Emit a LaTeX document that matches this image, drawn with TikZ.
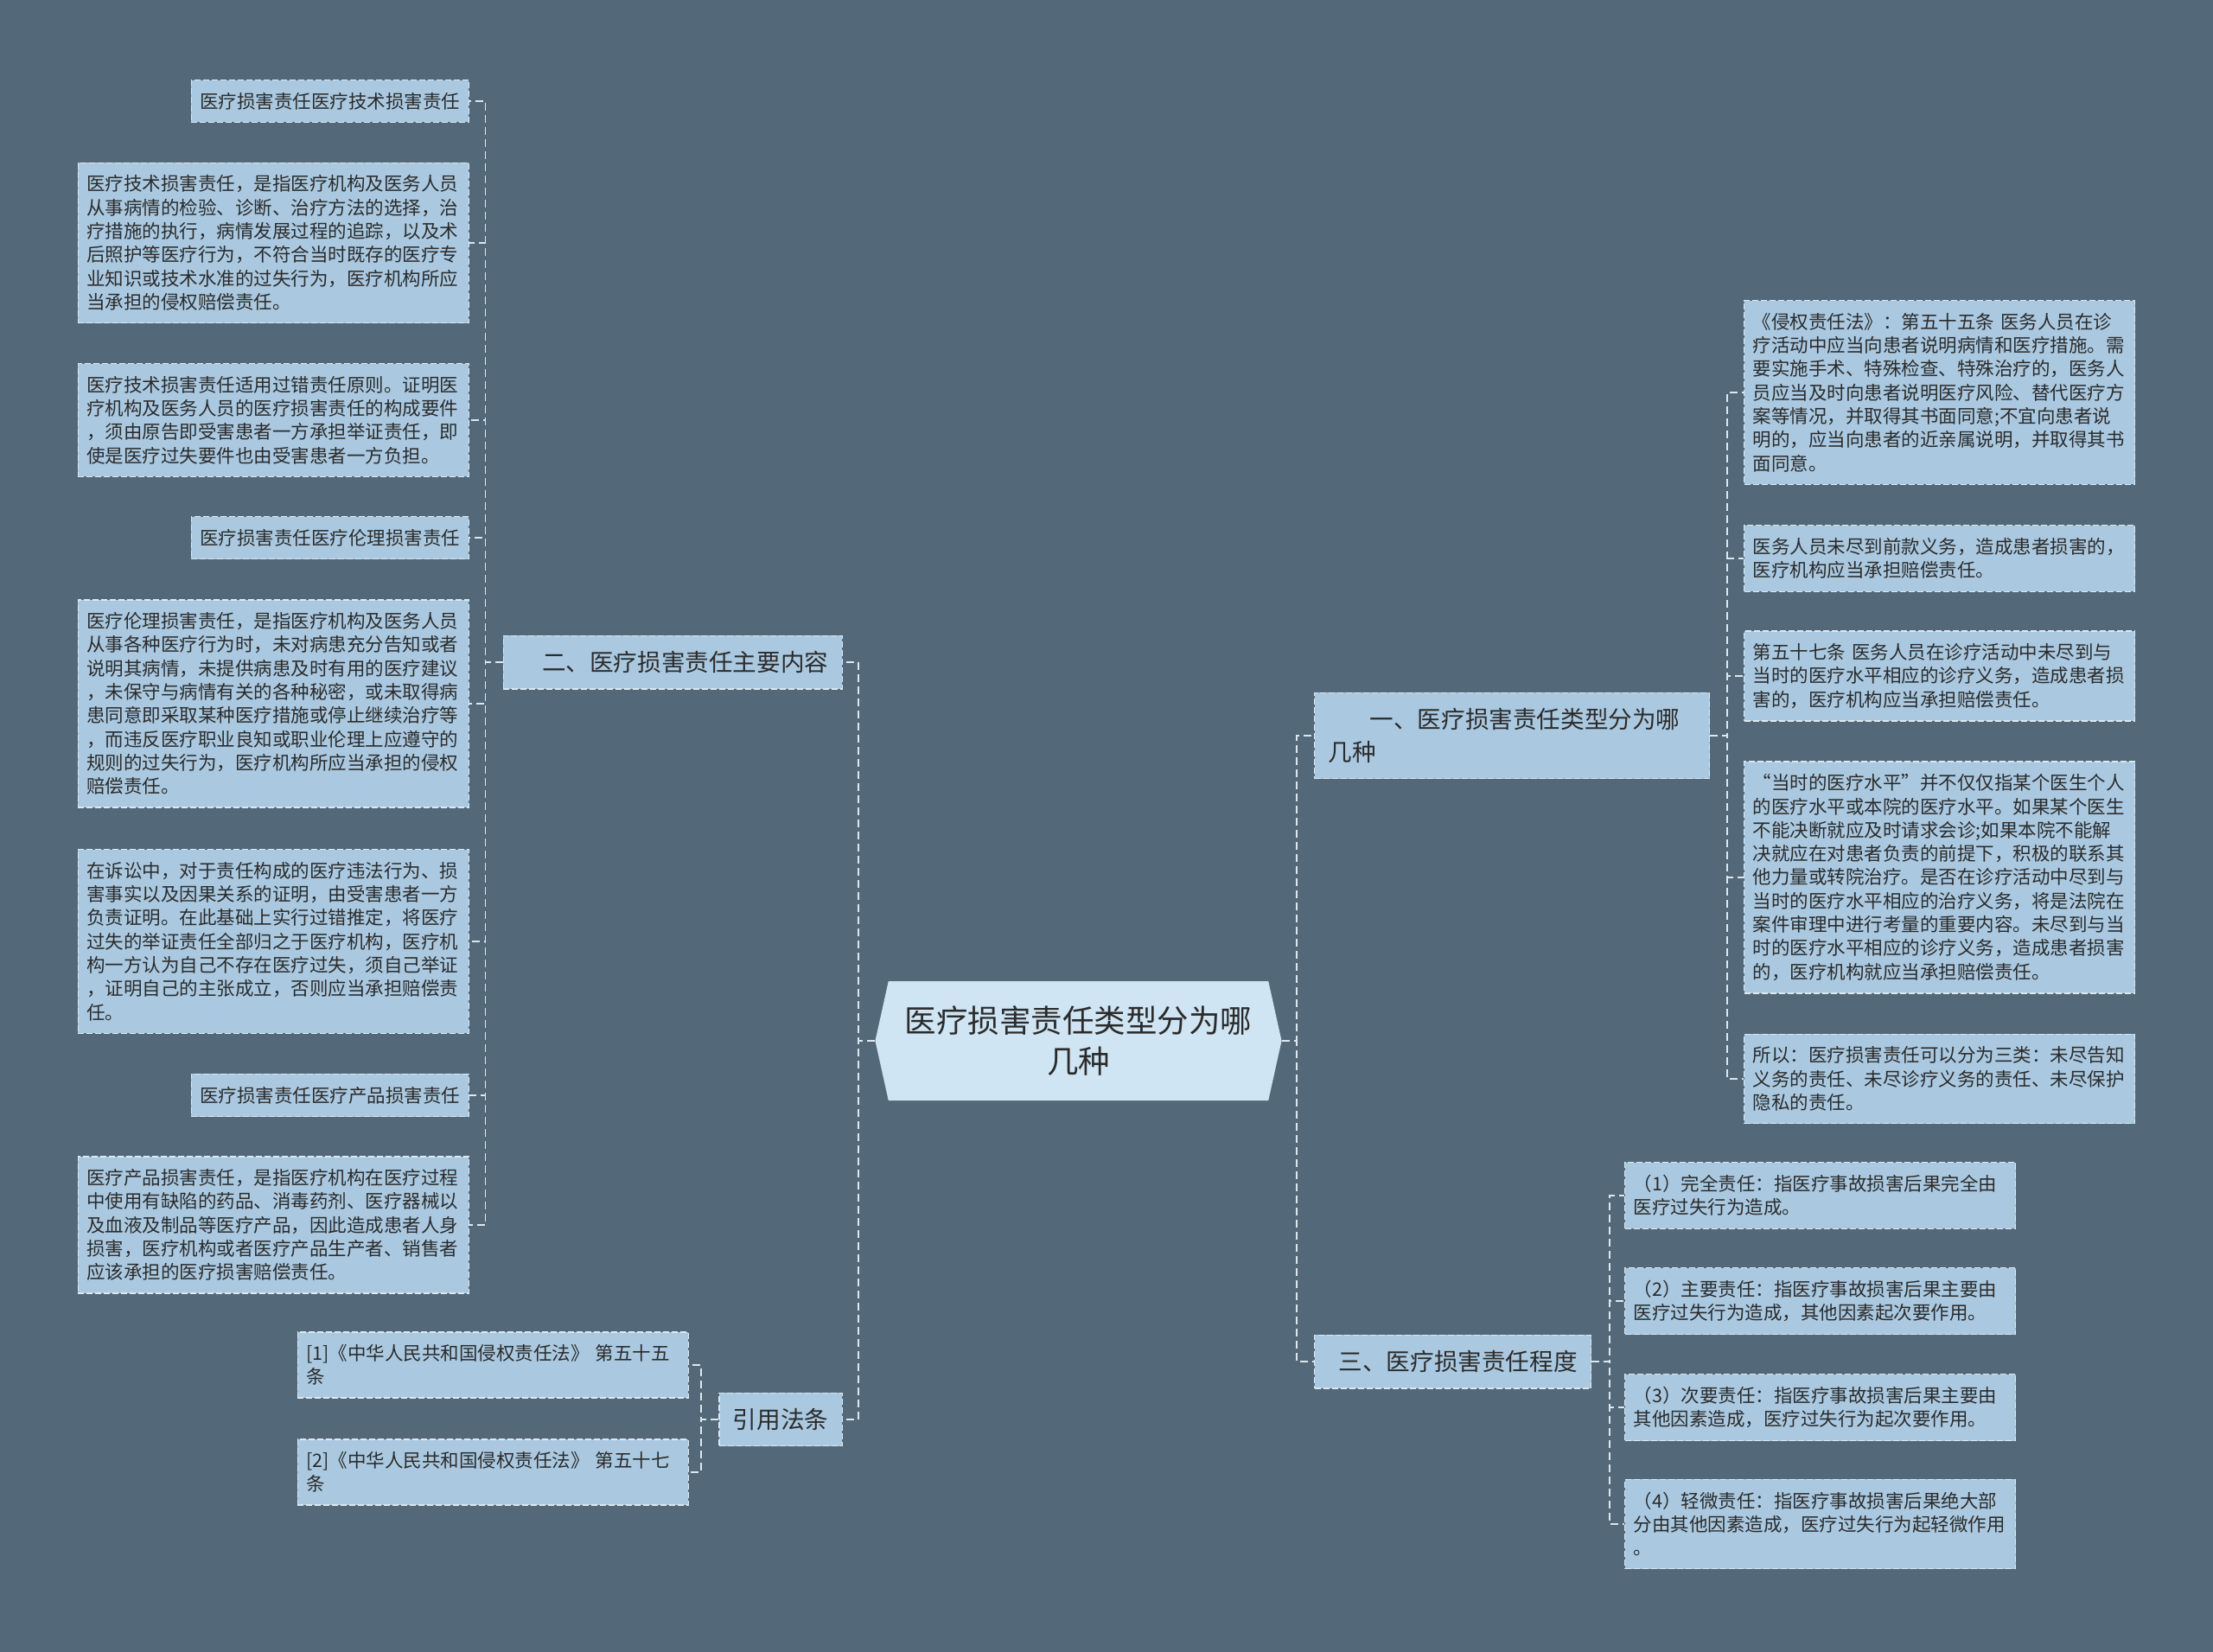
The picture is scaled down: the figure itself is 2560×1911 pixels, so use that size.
\documentclass[tikz,border=0pt]{standalone}
\usepackage{fontspec}
\usepackage{tikz}
\usetikzlibrary{shapes.symbols}
\newfontfamily\cjk{Noto Sans CJK SC}
\definecolor{slate}{HTML}{536878}
\definecolor{leafblue}{HTML}{AAC9E0}
\definecolor{rootblue}{HTML}{CFE5F3}
\definecolor{inkgray}{HTML}{2B2B2B}
\definecolor{linegray}{HTML}{DCE8F0}

\begin{document}
\begin{tikzpicture}[x=1pt,y=-1pt,
  box/.style={draw=linegray, fill=leafblue, line width=1.3pt, dash pattern=on 7pt off 3pt,
    text=inkgray, inner xsep=10pt, inner ysep=14.5pt, align=left,
    font=\cjk\fontsize{21.5}{27.3}\selectfont},
  note/.style={box, text width=432pt},
  branch/.style={box, inner xsep=16pt, inner ysep=18pt, font=\cjk\fontsize{27.6}{38}\selectfont},
  root/.style={signal, signal to=west and east, signal pointer angle=155, fill=rootblue,
    text=inkgray, align=center, inner xsep=19pt, minimum height=138pt,
    font=\cjk\fontsize{36.5}{47}\selectfont},
  link/.style={draw=linegray, line width=1.8pt, dash pattern=on 9pt off 5pt}]

% page size
\fill[slate] (0,0) rectangle (2560,1911);
\useasboundingbox (0,0) rectangle (2560,1911);

% root
\node[root] (root) at (1247.5,1204) {医疗损害责任类型分为哪\\几种};

% branches
\node[branch, anchor=east] (b2) at (975,766) {\hspace*{29pt}二、医疗损害责任主要内容};
\node[branch, anchor=east] (b4) at (975,1642) {引用法条};
\node[branch, anchor=west, text width=425pt] (b1) at (1520,851) {\hspace*{48pt}一、医疗损害责任类型分为哪\\几种};
\node[branch, anchor=west] (b3) at (1520,1575) {\hspace*{12pt}三、医疗损害责任程度};

% leaves of b2
\node[box, anchor=east] (l1) at (543,117) {医疗损害责任医疗技术损害责任};
\node[note, anchor=east] (l2) at (543,281) {医疗技术损害责任，是指医疗机构及医务人员\\从事病情的检验、诊断、治疗方法的选择，治\\疗措施的执行，病情发展过程的追踪，以及术\\后照护等医疗行为，不符合当时既存的医疗专\\业知识或技术水准的过失行为，医疗机构所应\\当承担的侵权赔偿责任。};
\node[note, anchor=east] (l3) at (543,486) {医疗技术损害责任适用过错责任原则。证明医\\疗机构及医务人员的医疗损害责任的构成要件\\，须由原告即受害患者一方承担举证责任，即\\使是医疗过失要件也由受害患者一方负担。};
\node[box, anchor=east] (l4) at (543,622) {医疗损害责任医疗伦理损害责任};
\node[note, anchor=east] (l5) at (543,814) {医疗伦理损害责任，是指医疗机构及医务人员\\从事各种医疗行为时，未对病患充分告知或者\\说明其病情，未提供病患及时有用的医疗建议\\，未保守与病情有关的各种秘密，或未取得病\\患同意即采取某种医疗措施或停止继续治疗等\\，而违反医疗职业良知或职业伦理上应遵守的\\规则的过失行为，医疗机构所应当承担的侵权\\赔偿责任。};
\node[note, anchor=east] (l6) at (543,1089) {在诉讼中，对于责任构成的医疗违法行为、损\\害事实以及因果关系的证明，由受害患者一方\\负责证明。在此基础上实行过错推定，将医疗\\过失的举证责任全部归之于医疗机构，医疗机\\构一方认为自己不存在医疗过失，须自己举证\\，证明自己的主张成立，否则应当承担赔偿责\\任。};
\node[box, anchor=east] (l7) at (543,1267) {医疗损害责任医疗产品损害责任};
\node[note, anchor=east] (l8) at (543,1417) {医疗产品损害责任，是指医疗机构在医疗过程\\中使用有缺陷的药品、消毒药剂、医疗器械以\\及血液及制品等医疗产品，因此造成患者人身\\损害，医疗机构或者医疗产品生产者、销售者\\应该承担的医疗损害赔偿责任。};

% leaves of b4
\node[note, anchor=east] (ref1) at (797,1579) {[1]《中华人民共和国侵权责任法》 第五十五\\条};
\node[note, anchor=east] (ref2) at (797,1703) {[2]《中华人民共和国侵权责任法》 第五十七\\条};

% leaves of b1
\node[note, anchor=west] (r1) at (2017,454) {《侵权责任法》：第五十五条 医务人员在诊\\疗活动中应当向患者说明病情和医疗措施。需\\要实施手术、特殊检查、特殊治疗的，医务人\\员应当及时向患者说明医疗风险、替代医疗方\\案等情况，并取得其书面同意;不宜向患者说\\明的，应当向患者的近亲属说明，并取得其书\\面同意。};
\node[note, anchor=west] (r2) at (2017,646) {医务人员未尽到前款义务，造成患者损害的，\\医疗机构应当承担赔偿责任。};
\node[note, anchor=west] (r3) at (2017,782) {第五十七条 医务人员在诊疗活动中未尽到与\\当时的医疗水平相应的诊疗义务，造成患者损\\害的，医疗机构应当承担赔偿责任。};
\node[note, anchor=west] (r4) at (2017,1015) {“当时的医疗水平”并不仅仅指某个医生个人\\的医疗水平或本院的医疗水平。如果某个医生\\不能决断就应及时请求会诊;如果本院不能解\\决就应在对患者负责的前提下，积极的联系其\\他力量或转院治疗。是否在诊疗活动中尽到与\\当时的医疗水平相应的治疗义务，将是法院在\\案件审理中进行考量的重要内容。未尽到与当\\时的医疗水平相应的诊疗义务，造成患者损害\\的，医疗机构就应当承担赔偿责任。};
\node[note, anchor=west] (r5) at (2017,1248) {所以：医疗损害责任可以分为三类：未尽告知\\义务的责任、未尽诊疗义务的责任、未尽保护\\隐私的责任。};

% leaves of b3
\node[note, anchor=west] (c1) at (1879,1383) {（1）完全责任：指医疗事故损害后果完全由\\医疗过失行为造成。};
\node[note, anchor=west] (c2) at (1879,1505) {（2）主要责任：指医疗事故损害后果主要由\\医疗过失行为造成，其他因素起次要作用。};
\node[note, anchor=west] (c3) at (1879,1628) {（3）次要责任：指医疗事故损害后果主要由\\其他因素造成，医疗过失行为起次要作用。};
\node[note, anchor=west] (c4) at (1879,1763) {（4）轻微责任：指医疗事故损害后果绝大部\\分由其他因素造成，医疗过失行为起轻微作用\\。};

% root to branches
\draw[link] (root.west) -- ++(-19,0) |- (b2.east);
\draw[link] (root.west) -- ++(-19,0) |- (b4.east);
\draw[link] (root.east) -- ++(17,0) |- (b1.west);
\draw[link] (root.east) -- ++(17,0) |- (b3.west);

% b2 to its leaves
\draw[link] (b2.west) -- ++(-20,0) |- (l1.east);
\draw[link] (b2.west) -- ++(-20,0) |- (l2.east);
\draw[link] (b2.west) -- ++(-20,0) |- (l3.east);
\draw[link] (b2.west) -- ++(-20,0) |- (l4.east);
\draw[link] (b2.west) -- ++(-20,0) |- (l5.east);
\draw[link] (b2.west) -- ++(-20,0) |- (l6.east);
\draw[link] (b2.west) -- ++(-20,0) |- (l7.east);
\draw[link] (b2.west) -- ++(-20,0) |- (l8.east);

% b4 to its leaves
\draw[link] (b4.west) -- ++(-20,0) |- (ref1.east);
\draw[link] (b4.west) -- ++(-20,0) |- (ref2.east);

% b1 to its leaves
\draw[link] (b1.east) -- ++(20,0) |- (r1.west);
\draw[link] (b1.east) -- ++(20,0) |- (r2.west);
\draw[link] (b1.east) -- ++(20,0) |- (r3.west);
\draw[link] (b1.east) -- ++(20,0) |- (r4.west);
\draw[link] (b1.east) -- ++(20,0) |- (r5.west);

% b3 to its leaves
\draw[link] (b3.east) -- ++(21,0) |- (c1.west);
\draw[link] (b3.east) -- ++(21,0) |- (c2.west);
\draw[link] (b3.east) -- ++(21,0) |- (c3.west);
\draw[link] (b3.east) -- ++(21,0) |- (c4.west);

\end{tikzpicture}
\end{document}
